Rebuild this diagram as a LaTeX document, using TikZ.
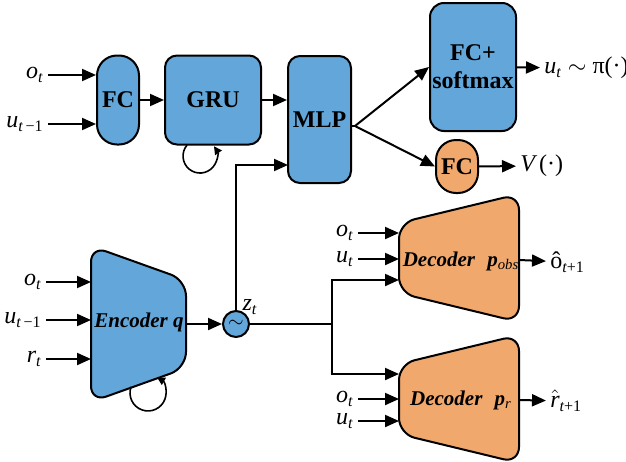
\documentclass[tikz,border=0pt]{standalone}
\usepackage{amsmath,amssymb}
\usepackage{fontspec}
\setmainfont{Liberation Serif}
\usetikzlibrary{arrows.meta}
\definecolor{blu}{RGB}{99,166,217}
\definecolor{org}{RGB}{241,168,108}

\begin{document}
\begin{tikzpicture}[x=0.5pt,y=-0.5pt]
    \tikzstyle{e} = [draw, line width=1pt, -{Triangle[length=7pt,width=6pt]}]
    \tikzstyle{lp} = [draw, line width=0.8pt, -{Triangle[length=4pt,width=4pt]}]
    \tikzstyle{ln} = [draw, line width=1pt]
    \tikzstyle{box} = [draw, line width=1pt, fill=blu, rounded corners=6pt, font=\large\bfseries, align=center, inner sep=0pt]
    \tikzstyle{trap} = [draw, line width=1pt, rounded corners=8pt]
    \tikzstyle{tt} = [font=\fontsize{10.5}{12}\selectfont\bfseries\itshape]
    \tikzstyle{lab} = [font=\large\itshape, inner sep=2pt]
    \useasboundingbox (0,0) rectangle (626,461);

    % upper branch
    \node[box, minimum width=21pt, minimum height=44.5pt, rounded corners=10pt] (FC) at (118,100) {FC};
    \node[box, minimum width=48pt, minimum height=44.5pt] (GRU) at (213,100) {GRU};
    \node[box, minimum width=31.5pt, minimum height=63.5pt] (MLP) at (319.5,119.5) {MLP};
    \node[box, minimum width=43pt, minimum height=64pt, rounded corners=7pt] (FCsm) at (473,67) {FC+\\softmax};
    \node[box, fill=org, minimum width=21pt, minimum height=26.5pt, rounded corners=10pt] (FCv) at (457,166.5) {FC};
    \node[lab, anchor=east] (o1) at (48,75) {o\textsubscript{t}};
    \node[lab, anchor=east] (u1) at (48,124) {u\textsubscript{t\,\upshape−1}};
    \node[lab, anchor=west] (pi) at (540,68) {u\textsubscript{t} {\upshape$\sim$ π(·)}};
    \node[lab, anchor=west] (V) at (516,166) {V\,{\upshape(·)}};
    \draw [e] (o1) -- (o1 -| FC.west);
    \draw [e] (u1) -- (u1 -| FC.west);
    \draw [e] (FC) -- (GRU);
    \draw [e] (GRU) -- (GRU.east -| MLP.west);
    \coordinate (mlpE) at (355,126);
    \draw [ln] (mlpE -| MLP.east) -- (mlpE);
    \draw [e] (mlpE) -- (FCsm.west);
    \draw [e] (mlpE) -- (FCv.west);
    \draw [e] (FCsm) -- (pi);
    \draw [e] (FCv) -- (V);
    \draw [lp] (187,145.1) arc[start angle=140, end angle=395, radius=8.5pt];

    % encoder
    \draw [trap, fill=blu] (91,246) -- (186,280) -- (186,368) -- (91,402) -- cycle;
    \node[tt] (enc) at (139,322) {Encoder q};
    \coordinate (encW) at (91,322);
    \coordinate (encE) at (186,324);
    \node[lab, anchor=east] (o2) at (46,282) {o\textsubscript{t}};
    \node[lab, anchor=east] (u2) at (46,320) {u\textsubscript{t\,\upshape−1}};
    \node[lab, anchor=east] (r2) at (46,359) {r\textsubscript{t}};
    \draw [e] (o2) -- (o2 -| encW);
    \draw [e] (u2) -- (u2 -| encW);
    \draw [e] (r2) -- (r2 -| encW);
    \draw [lp] (131.1,386.8) arc[start angle=160, end angle=420, radius=9pt];
    \node[circle, draw, line width=1pt, fill=blu, minimum size=13pt, inner sep=0pt] (zt) at (236,324) {$\sim$};
    \node[lab, inner sep=0pt] (ztl) at (250,307) {z\textsubscript{t}};
    \draw [e] (encE) -- (zt);
    \coordinate (mlpin) at (288,165);
    \draw [e] (zt) |- (mlpin);

    % decoders
    \draw [trap, fill=org] (399,223) -- (519,194) -- (519,322) -- (399,293) -- cycle;
    \draw [trap, fill=org] (399,364) -- (519,335) -- (519,463) -- (399,434) -- cycle;
    \node[tt] (dobs) at (461,261) {Decoder\,\, p\textsubscript{\mdseries obs}};
    \node[tt] (dr) at (461,400) {Decoder\,\, p\textsubscript{\mdseries r}};
    \coordinate (br) at (332,324);
    \coordinate (dobsz) at (399,280);
    \coordinate (drz) at (399,374);
    \draw [ln] (zt) -- (br);
    \draw [e] (br) |- (dobsz);
    \draw [e] (br) |- (drz);
    \node[lab, anchor=east] (o3) at (358,233) {o\textsubscript{t}};
    \node[lab, anchor=east] (u3) at (358,259) {u\textsubscript{t}};
    \node[lab, anchor=east] (o4) at (358,399) {o\textsubscript{t}};
    \node[lab, anchor=east] (u4) at (358,421) {u\textsubscript{t}};
    \coordinate (dobsW) at (399,260);
    \coordinate (drW) at (399,400);
    \draw [e] (o3) -- (o3 -| dobsW);
    \draw [e] (u3) -- (u3 -| dobsW);
    \draw [e] (o4) -- (o4 -| drW);
    \draw [e] (u4) -- (u4 -| drW);
    \node[lab, anchor=west] (ohat) at (546,262) {{\upshape ô}\textsubscript{t\upshape +1}};
    \node[lab, anchor=west] (rhat) at (546,401) {$\hat{\textit{r}}$\textsubscript{t\upshape +1}};
    \draw [e] (dobsW -| 519,0) -- (ohat);
    \draw [e] (drW -| 519,0) -- (rhat);
\end{tikzpicture}
\end{document}
